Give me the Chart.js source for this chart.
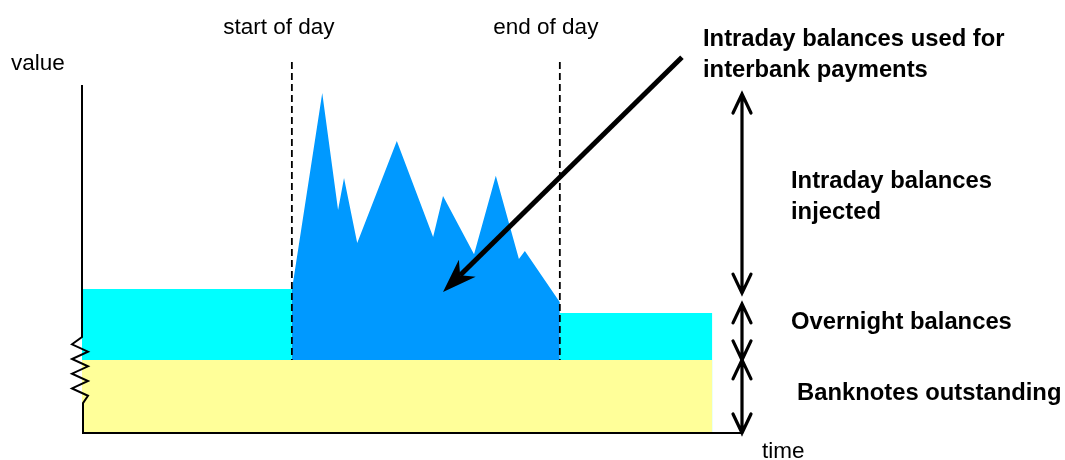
<!DOCTYPE html>
<html>
<head>
<meta charset="utf-8">
<script src="https://cdn.jsdelivr.net/npm/chart.js@4"></script>
<style>
  html, body { margin: 0; padding: 0; background: #fff; }
  #wrap { width: 1065px; height: 460px; }
</style>
</head>
<body>
<div id="wrap"><canvas id="chart" width="1065" height="460"></canvas></div>
<script>
// time and value both run 0..100 (arbitrary units)
const dayStart = 31.8;
const dayEnd = 72.4;
const periodEnd = 95.5;

const banknotes = 21;
const overnightBefore = 41.4;
const overnightAfter = 34.5;

const intradayTimes  = [31.8, 36.4, 38.8, 39.7, 41.7, 47.7, 53.2, 54.7, 59.4, 62.7, 66.2, 67.1, 72.4];
const intradayValues = [41.1, 97.7, 64.1, 73.3, 54.6, 83.9, 56.3, 68.1, 51.4, 73.9, 50.0, 52.3, 37.6];

// double arrows on the right: [from, to] in value units, at time 100
const rangeArrowX = 100;
const rangeArrows = [[97.4, 40.2], [37.1, 21], [21, 0]];

// pointer arrow: [time, value] start and tip
const pointerFrom = [90.9, 108];
const pointerTo = [54.7, 40.5];
const markerTop = 106.6;

const markerLabels = ['start of day', 'end of day'];

const colors = {
    banknotes: '#FFFF99',
    overnight: '#00FFFF',
    intraday: '#0099FF'
};

function pts(xs, ys) {
    return xs.map((x, i) => ({ x: x, y: ys[i] }));
}

const overlay = {
    id: 'overlay',
    afterDatasetsDraw(chart) {
        const ctx = chart.ctx;
        const xs = chart.scales.x;
        const ys = chart.scales.y;
        const px = v => xs.getPixelForValue(v);
        const py = v => ys.getPixelForValue(v);
        ctx.save();

        // axes with a break on the value axis
        const x0 = px(0);
        const yA = py(27.6), yB = py(8.6);
        ctx.strokeStyle = '#000';
        ctx.lineWidth = 2;
        ctx.lineJoin = 'miter';
        ctx.beginPath();
        ctx.moveTo(x0, chart.chartArea.top);
        ctx.lineTo(x0, yA);
        for (let i = 1; i <= 8; i++) {
            const yy = yA + (yB - yA) * i / 9;
            ctx.lineTo(i % 2 ? x0 - 10 : x0 + 6, yy);
        }
        ctx.lineTo(x0 + 1, yB);
        ctx.lineTo(x0 + 1, py(0));
        ctx.lineTo(px(rangeArrowX), py(0));
        ctx.stroke();

        // start / end of day markers
        ctx.lineWidth = 1.8;
        ctx.setLineDash([7, 4]);
        [dayStart, dayEnd].forEach(t => {
            ctx.beginPath();
            ctx.moveTo(px(t), py(markerTop));
            ctx.lineTo(px(t), py(banknotes));
            ctx.stroke();
        });
        ctx.setLineDash([]);

        // double-headed range arrows
        ctx.lineWidth = 3.2;
        ctx.lineCap = 'round';
        const ax = px(rangeArrowX);
        rangeArrows.forEach(r => {
            const a = py(r[0]), b = py(r[1]);
            ctx.beginPath();
            ctx.moveTo(ax, a); ctx.lineTo(ax, b);
            ctx.moveTo(ax - 9, a + 19); ctx.lineTo(ax, a); ctx.lineTo(ax + 9, a + 19);
            ctx.moveTo(ax - 9, b - 19); ctx.lineTo(ax, b); ctx.lineTo(ax + 9, b - 19);
            ctx.stroke();
        });

        // pointer arrow
        const fx = px(pointerFrom[0]), fy = py(pointerFrom[1]);
        const tx = px(pointerTo[0]), ty = py(pointerTo[1]);
        const ang = Math.atan2(ty - fy, tx - fx);
        const headLen = 34, headW = 12, notch = 24;
        const bx = tx - Math.cos(ang) * notch, by = ty - Math.sin(ang) * notch;
        ctx.lineWidth = 5;
        ctx.lineCap = 'butt';
        ctx.beginPath();
        ctx.moveTo(fx, fy);
        ctx.lineTo(bx, by);
        ctx.stroke();
        ctx.fillStyle = '#000';
        ctx.beginPath();
        ctx.moveTo(tx, ty);
        ctx.lineTo(tx - Math.cos(ang) * headLen - Math.sin(ang) * headW,
                   ty - Math.sin(ang) * headLen + Math.cos(ang) * headW);
        ctx.lineTo(bx, by);
        ctx.lineTo(tx - Math.cos(ang) * headLen + Math.sin(ang) * headW,
                   ty - Math.sin(ang) * headLen - Math.cos(ang) * headW);
        ctx.closePath();
        ctx.fill();

        // text
        ctx.fillStyle = '#000';
        ctx.textBaseline = 'alphabetic';
        ctx.font = '22.5px "Liberation Sans", Arial, sans-serif';
        ctx.textAlign = 'center';
        ctx.fillText(markerLabels[0], px(dayStart) - 13, 34);
        ctx.fillText(markerLabels[1], px(dayEnd) - 14, 34);
        ctx.textAlign = 'left';
        ctx.fillText('value', 11, 70);
        ctx.fillText('time', 762, 458);

        ctx.font = 'bold 23.8px "Liberation Sans", Arial, sans-serif';
        ctx.fillText('Intraday balances used for', 703, 46);
        ctx.fillText('interbank payments', 703, 77);
        ctx.fillText('Intraday balances', 791, 188);
        ctx.fillText('injected', 791, 219);
        ctx.fillText('Overnight balances', 791, 329);
        ctx.fillText('Banknotes outstanding', 797, 400);
        ctx.restore();
    }
};

const baseSet = {
    borderWidth: 0,
    borderColor: 'transparent',
    pointRadius: 0,
    tension: 0,
    fill: 'origin',
    clip: false
};

new Chart(document.getElementById('chart'), {
    type: 'line',
    data: {
        datasets: [
            Object.assign({}, baseSet, {
                label: 'Banknotes outstanding',
                data: pts([0, periodEnd], [banknotes, banknotes]),
                backgroundColor: colors.banknotes,
                order: 0
            }),
            Object.assign({}, baseSet, {
                label: 'Intraday balances',
                data: pts(intradayTimes, intradayValues),
                backgroundColor: colors.intraday,
                order: 1
            }),
            Object.assign({}, baseSet, {
                label: 'Overnight balances (before)',
                data: pts([0, dayStart], [overnightBefore, overnightBefore]),
                backgroundColor: colors.overnight,
                order: 2
            }),
            Object.assign({}, baseSet, {
                label: 'Overnight balances (after)',
                data: pts([dayEnd, periodEnd], [overnightAfter, overnightAfter]),
                backgroundColor: colors.overnight,
                order: 2
            })
        ]
    },
    options: {
        responsive: false,
        animation: false,
        layout: { padding: { left: 82, top: 85, right: 323, bottom: 27 } },
        scales: {
            x: { type: 'linear', min: 0, max: 100, display: false },
            y: { min: 0, max: 100, display: false }
        },
        plugins: {
            legend: { display: false },
            tooltip: { enabled: false }
        }
    },
    plugins: [overlay]
});
</script>
</body>
</html>
